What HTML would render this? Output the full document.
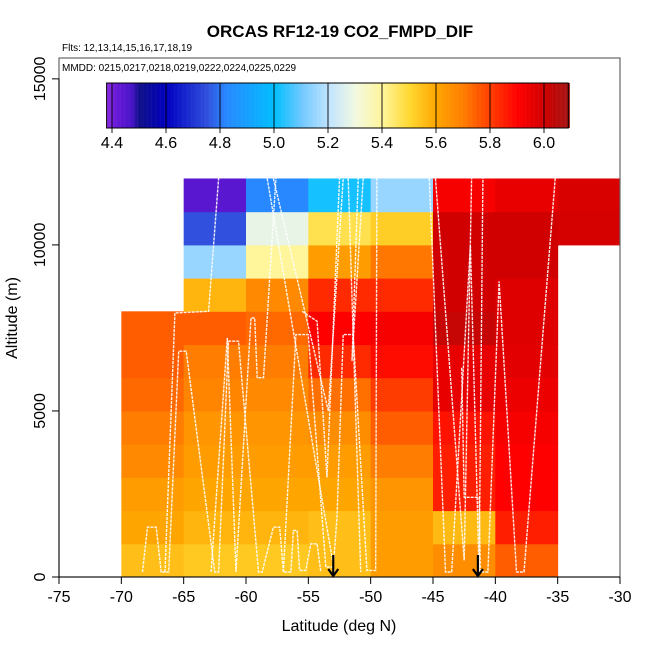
<!DOCTYPE html>
<html><head><meta charset="utf-8"><style>
body{margin:0;background:#fff;}
svg text{font-family:"Liberation Sans",sans-serif;}
</style></head><body>
<svg id="c" width="650" height="650" xmlns="http://www.w3.org/2000/svg">
<text x="340" y="37" font-size="17" font-weight="bold" text-anchor="middle">ORCAS RF12-19 CO2_FMPD_DIF</text>
<text x="62" y="51" font-size="10">Flts: 12,13,14,15,16,17,18,19</text>
<g id="cells"></g>
<g id="tracks"></g>
<g id="cbar"></g>
<rect x="59" y="58" width="561" height="519" fill="none" stroke="#666" stroke-width="1.2"/>
<text x="62" y="71" font-size="10">MMDD: 0215,0217,0218,0219,0222,0224,0225,0229</text>
<g id="axes"></g>
<text x="339" y="631" font-size="16" text-anchor="middle">Latitude (deg N)</text>
<text transform="translate(17,318) rotate(-90)" font-size="16" text-anchor="middle">Altitude (m)</text>
</svg>
<script>
const xTicks=[-75,-70,-65,-60,-55,-50,-45,-40,-35,-30];
const yTicks=[0,5000,10000,15000];
const cbTicks=[4.4,4.6,4.8,5.0,5.2,5.4,5.6,5.8,6.0];
const colLats=[-70,-65,-60,-55,-50,-45,-40];
const colVals=[
 [5.55,5.6,5.62,5.67,5.7,5.73,5.75,5.75],
 [5.53,5.57,5.6,5.62,5.64,5.68,5.7,5.75,5.57,5.15,4.75,4.44],
 [5.53,5.57,5.6,5.62,5.64,5.67,5.7,5.73,5.67,5.4,5.28,4.82],
 [5.55,5.55,5.6,5.62,5.66,5.72,5.83,5.9,5.83,5.62,5.47,5.02],
 [5.62,5.62,5.64,5.7,5.75,5.8,5.88,5.92,5.83,5.71,5.52,5.15],
 [5.66,5.56,5.85,5.85,5.87,5.95,5.95,6.02,6.0,6.0,6.0,5.92],
 [5.75,5.85,5.9,5.9,5.92,5.94,5.96,5.97,5.97,6.0,6.0,5.95]
];
const lastColRows=[10,11];
const lastColVals=[5.99,5.98];
const arrowLats=[-53,-41.4];
const tracks=[
 [[-68.3,150],[-67.9,1500],[-67.2,1500],[-66.8,150],[-66.2,150],[-65.4,6800],[-64.8,6800],[-62.5,150],[-62.2,150],[-61.4,7100],[-60.6,7100],[-59,150],[-58.7,150],[-57.8,1500],[-57.3,1500],[-57,150],[-56.4,150],[-56.2,1400],[-55.9,1400],[-55.7,200],[-55.2,200],[-54.8,1000],[-54.3,1000],[-54,150]],
 [[-66.5,150],[-65.7,7950],[-63,8000],[-62.2,12000]],
 [[-62.8,150],[-61.5,7200],[-60.8,150],[-59.6,7800],[-59.3,7800],[-59.1,6000],[-58.6,6000],[-57.6,12000]],
 [[-57,150],[-56,7300],[-55,7300],[-53.6,300],[-53,300],[-52.7,1800],[-52.2,7300],[-51.4,7300],[-50.3,200],[-49.6,200],[-49.5,12000]],
 [[-58.3,12000],[-52.9,150]],[[-57.8,12000],[-53.4,5000],[-52.2,12000]],
 [[-55.5,8000],[-54.3,7700],[-53.5,3000],[-52.5,12000]],
 [[-51.8,12000],[-50.8,150]],[[-50.6,12000],[-51.5,6500],[-51,12000]],
 [[-45.3,12000],[-44,150],[-43.5,150],[-42,10000],[-41.3,150],[-41,12000]],
 [[-44.8,12000],[-42.5,500],[-41.9,12000]],
 [[-42.7,6300],[-42.5,2400],[-41.3,2400],[-41.2,150],[-40.6,150],[-39.7,8900],[-38.3,150],[-37.7,150],[-35.2,12000]]
];
const X=v=>59+(v+75)*(561/45), Y=v=>577-v*0.03321;
const pal=[[4.38,'#8a2be2'],[4.41,'#6a1ad8'],[4.47,'#4a14c8'],[4.5,'#10108a'],[4.6,'#0000c0'],[4.75,'#3050dd'],[4.82,'#2888ff'],[5.0,'#00bfff'],[5.1,'#70c8ff'],[5.2,'#c0e4ff'],[5.3,'#f2f9e0'],[5.4,'#fff59a'],[5.5,'#ffd830'],[5.6,'#ffa500'],[5.7,'#ff7d00'],[5.8,'#ff3c00'],[5.9,'#ff0000'],[6.0,'#d00000'],[6.1,'#a01818']];
function hx(h){return [1,3,5].map(i=>parseInt(h.substr(i,2),16));}
function col(v){if(v<=pal[0][0])return pal[0][1];for(let i=1;i<pal.length;i++){if(v<=pal[i][0]){const t=(v-pal[i-1][0])/(pal[i][0]-pal[i-1][0]);const a=hx(pal[i-1][1]),b=hx(pal[i][1]);return 'rgb('+a.map((c,k)=>Math.round(c+(b[k]-c)*t)).join(',')+')';}}return pal[pal.length-1][1];}
const NS='http://www.w3.org/2000/svg';
function mk(t,p,a){const e=document.createElementNS(NS,t);for(const k in a)e.setAttribute(k,a[k]);p.appendChild(e);return e;}
const cells=document.getElementById('cells');
colVals.forEach((vals,ci)=>{vals.forEach((v,ri)=>{
 const r=mk('rect',cells,{x:X(colLats[ci]),y:Y((ri+1)*1000),width:X(colLats[ci]+5)-X(colLats[ci])+0.5,height:Y(ri*1000)-Y((ri+1)*1000)+0.5,fill:col(v)});
 
 
});});
lastColVals.forEach((v,i)=>{const ri=lastColRows[i];
 const r=mk('rect',cells,{x:X(-35),y:Y((ri+1)*1000),width:X(-30)-X(-35),height:Y(ri*1000)-Y((ri+1)*1000)+0.5,fill:col(v)});
 
 
});
const tg=document.getElementById('tracks');
tracks.forEach(tr=>{const p=mk('polyline',tg,{points:tr.map(q=>X(q[0]).toFixed(1)+','+Y(q[1]).toFixed(1)).join(' '),fill:'none',stroke:'#fff','stroke-width':1.4,'stroke-dasharray':'3 1','stroke-opacity':0.9});
 
 
});
arrowLats.forEach(a=>{const g=mk('g',tg,{});
 
 
 mk('line',g,{x1:X(a),y1:555,x2:X(a),y2:576,stroke:'#000','stroke-width':2.2});
 mk('polyline',g,{points:(X(a)-5)+',569 '+X(a)+',576 '+(X(a)+5)+',569',fill:'none',stroke:'#000','stroke-width':2.2});
});
const cb=document.getElementById('cbar');const CX=v=>112+(v-4.4)*270;
for(let v=4.38;v<6.09;v+=0.005){mk('rect',cb,{x:CX(v),y:83,width:1.6,height:45,fill:col(v)});}
mk('rect',cb,{x:CX(4.38),y:83,width:CX(6.09)-CX(4.38),height:45,fill:'none',stroke:'#000','stroke-width':1});
cbTicks.forEach(t=>{mk('line',cb,{x1:CX(t),y1:83,x2:CX(t),y2:133,stroke:'#000','stroke-width':0.9});
 const tx=mk('text',cb,{x:CX(t),y:148,'font-size':16,'text-anchor':'middle'});tx.textContent=t.toFixed(1);
 
 
});
const ax=document.getElementById('axes');
mk('line',ax,{x1:X(-75),y1:577,x2:X(-30),y2:577,stroke:'#000','stroke-width':1});
mk('line',ax,{x1:59,y1:Y(0),x2:59,y2:Y(15000),stroke:'#000','stroke-width':1});
xTicks.forEach(t=>{mk('line',ax,{x1:X(t),y1:577,x2:X(t),y2:584,stroke:'#000'});
 const tx=mk('text',ax,{x:X(t),y:602,'font-size':16,'text-anchor':'middle'});tx.textContent=t;
 
 
});
yTicks.forEach(t=>{mk('line',ax,{x1:52,y1:Y(t),x2:59,y2:Y(t),stroke:'#000'});
 const tx=mk('text',ax,{transform:'translate(45,'+Y(t)+') rotate(-90)','font-size':16,'text-anchor':'middle'});tx.textContent=t;
 
 
});
</script>
</body></html>
